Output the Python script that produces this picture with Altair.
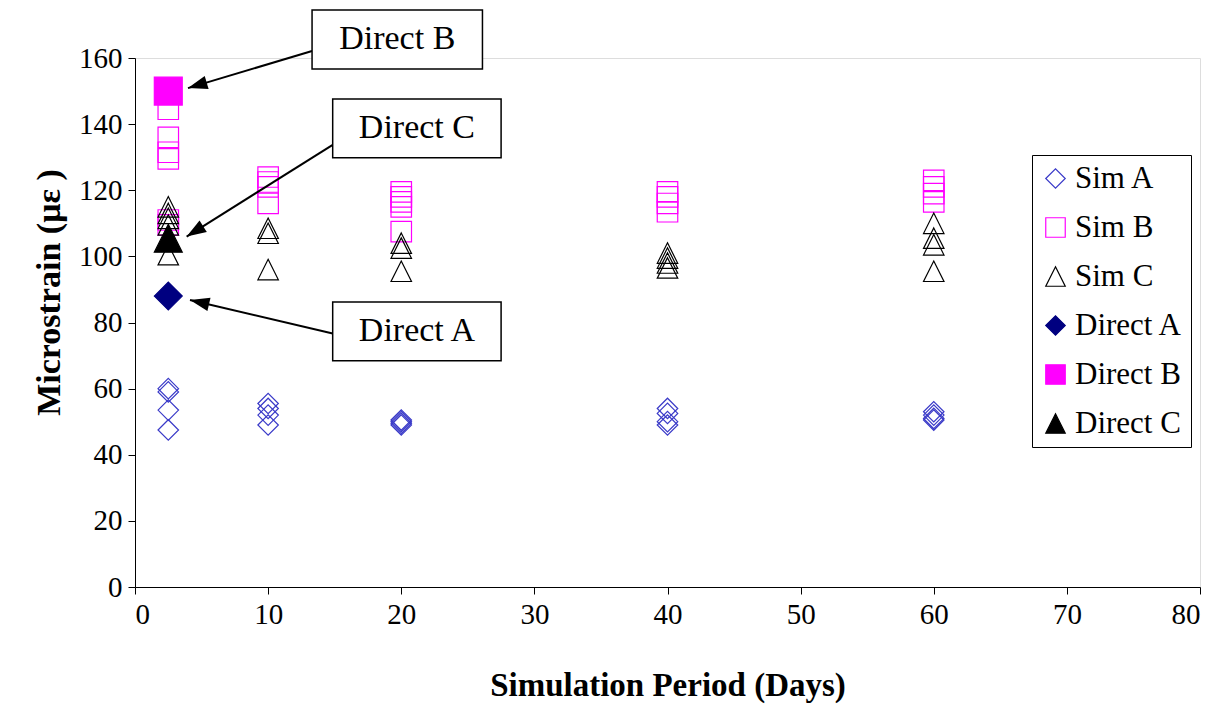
import math
import altair as alt
import pandas as pd

# ---------------- data ----------------
days = [2.5, 10, 20, 40, 60]
sim_a = [[60, 59, 53.5, 47.5], [55.5, 54, 52, 49], [50.5, 50, 49.5, 49],
         [54, 52.5, 50, 49], [53, 52, 51, 50.5]]
sim_b = [[144.5, 136, 131.5, 129.5, 111, 109.5], [124, 122.5, 121, 116],
         [119.5, 118, 116.5, 115, 107.5], [119.5, 118, 116, 113.5],
         [123, 121, 119, 116.5]]
sim_c = [[115, 113, 111.5, 109.5, 100.5], [108.5, 107, 96], [104, 102.5, 95.5],
         [101, 99.5, 98, 96.5], [110, 105.5, 103.5, 95.5]]
direct_day = 2.5
direct_names = ["Direct A", "Direct B", "Direct C"]
direct_vals = [88, 150, 105.5]

series_order = ["Sim A", "Sim B", "Sim C", "Direct A", "Direct B", "Direct C"]
x_ticks = list(range(0, 81, 10))
y_ticks = list(range(0, 161, 20))

# annotation callouts (data units)
ann_label = ["Direct B", "Direct C", "Direct A"]
ann_x1 = [13.3, 14.85, 14.85]
ann_x2 = [26.1, 27.5, 27.5]
ann_y1 = [174.5, 147.6, 86.2]
ann_y2 = [156.7, 129.8, 68.4]
arr_start_x = [13.3, 14.85, 14.85]
arr_start_y = [162.1, 133.7, 76.7]
arr_tip_x = [3.98, 3.88, 4.13]
arr_tip_y = [150.9, 106.0, 86.8]

# ---------------- layout ----------------
W, H = 1065, 529
X_MAX, Y_MAX = 80, 160
FONT = "Liberation Serif"

rows = []
for name, groups in (("Sim A", sim_a), ("Sim B", sim_b), ("Sim C", sim_c)):
    for d, vals in zip(days, groups):
        for v in vals:
            rows.append({"day": d, "strain": v, "series": name})
sim_df = pd.DataFrame(rows)
direct_df = pd.DataFrame({"day": [direct_day] * 3, "strain": direct_vals,
                          "series": direct_names})

TRI = "M0,-1L1,1L-1,1Z"
shape_scale = alt.Scale(domain=series_order,
                        range=["diamond", "square", TRI, "diamond", "square", TRI])
stroke_scale = alt.Scale(domain=series_order,
                         range=["#3a3ac8", "#ff00ff", "#000000", "#000080", "#ff00ff", "#000000"])
fill_scale = alt.Scale(domain=series_order,
                       range=["transparent", "transparent", "transparent",
                              "#000080", "#ff00ff", "#000000"])

legend = alt.Legend(title=None, orient="none", legendX=897, legendY=97,
                    strokeColor="black", fillColor="white", padding=8,
                    labelFont=FONT, labelFontSize=31, labelColor="black",
                    labelLimit=400, symbolSize=380, symbolStrokeWidth=1.2,
                    rowPadding=17, labelOffset=4)

x_enc = alt.X("day:Q", scale=alt.Scale(domain=[0, X_MAX], nice=False),
              axis=alt.Axis(values=x_ticks, grid=False, domainColor="black",
                            tickColor="black", tickSize=7, labelFont=FONT,
                            labelFontSize=29, labelColor="black", labelPadding=6,
                            title="Simulation Period (Days)", titleFont=FONT,
                            titleFontSize=33, titleFontWeight="bold",
                            titleColor="black", titlePadding=40))
y_enc = alt.Y("strain:Q", scale=alt.Scale(domain=[0, Y_MAX], nice=False, zero=True),
              axis=alt.Axis(values=y_ticks, grid=False, domainColor="black",
                            tickColor="black", tickSize=7, labelFont=FONT,
                            labelFontSize=29, labelColor="black", labelPadding=6,
                            title="Microstrain (με )", titleFont=FONT,
                            titleFontSize=34, titleFontWeight="bold",
                            titleColor="black", titlePadding=12, titleY=234))

enc = dict(
    x=x_enc, y=y_enc,
    shape=alt.Shape("series:N", scale=shape_scale, legend=legend),
    stroke=alt.Stroke("series:N", scale=stroke_scale, legend=legend),
    fill=alt.Fill("series:N", scale=fill_scale, legend=legend),
)

sim_layer = alt.Chart(sim_df).mark_point(size=420, opacity=1, strokeWidth=1.2).encode(**enc)
direct_layer = alt.Chart(direct_df).mark_point(size=780, opacity=1, strokeWidth=1.2).encode(**enc)

# annotation geometry
px_x = W / X_MAX
px_y = H / Y_MAX
angles = []
for sx, sy, tx, ty in zip(arr_start_x, arr_start_y, arr_tip_x, arr_tip_y):
    dx = (tx - sx) * px_x
    dy = -(ty - sy) * px_y  # screen coordinates (down positive)
    angles.append(math.degrees(math.atan2(dx, -dy)) % 360)

ann_df = pd.DataFrame({"label": ann_label, "x1": ann_x1, "x2": ann_x2,
                       "y1": ann_y1, "y2": ann_y2,
                       "cx": [(a + b) / 2 for a, b in zip(ann_x1, ann_x2)],
                       "cy": [(a + b) / 2 for a, b in zip(ann_y1, ann_y2)],
                       "sx": arr_start_x, "sy": arr_start_y,
                       "tx": arr_tip_x, "ty": arr_tip_y, "angle": angles})

arrow_lines = alt.Chart(ann_df).mark_rule(color="black", strokeWidth=2).encode(
    x=alt.X("sx:Q"), y=alt.Y("sy:Q"), x2="tx:Q", y2="ty:Q")
ARROW = "M0,0L0.7,2L-0.7,2Z"
arrow_heads = alt.Chart(ann_df).mark_point(shape=ARROW, size=380, filled=True,
                                           color="black", opacity=1).encode(
    x=alt.X("tx:Q"), y=alt.Y("ty:Q"), angle=alt.Angle("angle:Q", scale=None))
boxes = alt.Chart(ann_df).mark_rect(fill="white", stroke="black", strokeWidth=1.5).encode(
    x=alt.X("x1:Q"), x2="x2:Q", y=alt.Y("y1:Q"), y2="y2:Q")
box_text = alt.Chart(ann_df).mark_text(font=FONT, fontSize=34, color="black",
                                       align="center", baseline="middle").encode(
    x=alt.X("cx:Q"), y=alt.Y("cy:Q"), text="label:N")

chart = alt.layer(sim_layer, direct_layer, arrow_lines, arrow_heads, boxes, box_text).properties(
    width=W, height=H,
    autosize=alt.AutoSizeParams(type="none"),
    padding={"left": 127, "top": 50, "right": 5, "bottom": 140},
).configure_view(stroke=None).configure(background="white")

chart.save("out.html", embed_options={"renderer": "svg", "actions": False})
